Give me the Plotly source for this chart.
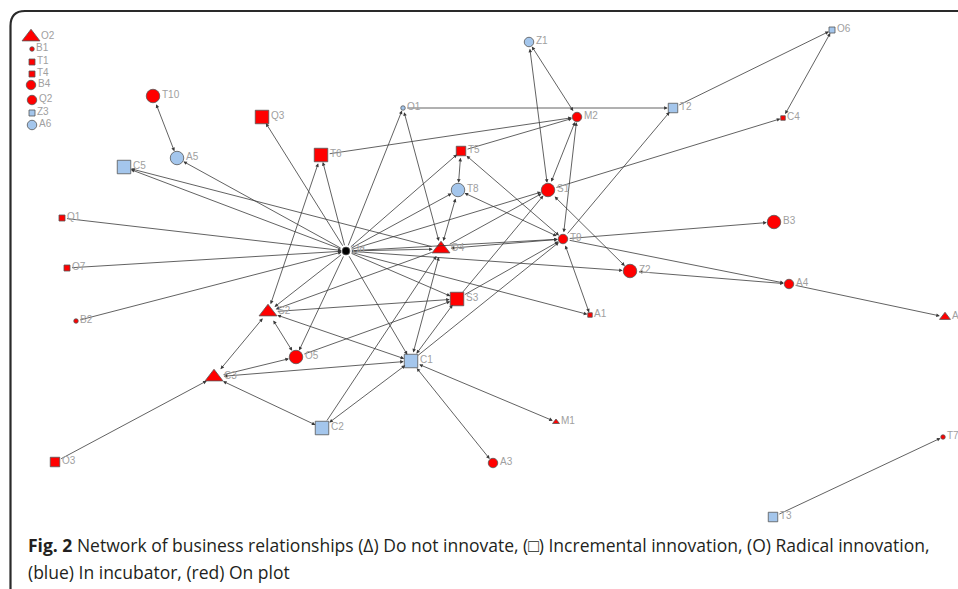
import plotly.graph_objects as go

# ---------------- data ----------------
node_names = ["O2","B1","T1","T4","B4","Q2","Z3","A6","T10","A5","C5","Q3","T6","O1","Z1","M2",
              "T2","O6","C4","T5","T8","S1","Ud","O4","T9","B3","Z2","A4","A2","S3","A1","Q1",
              "O7","B2","S2","O5","C3","C1","C2","M1","A3","O3","T7","T3"]
node_x = [31,32,32,32,31,32,32,32,153,177,124,262,321,403,529,577,
          673,832,783,461,458,548,346,441,563,774,630,789,945,457,590,62,
          67,76,268,296,214,411,322,556,493,55,943,773]
node_y = [37,49,62,74,85,100,113,125,96,158,167,117,155,108,42,117,
          108,30,118,151,190,190,251,249,239,222,271,284,317,299,315,218,
          268,321,312,357,377,361,428,422,463,462,437,517]
# innovation: N = do not innovate, I = incremental, R = radical, H = hub
node_innov = ["N","R","I","I","R","R","I","R","R","R","I","I","I","R","R","R",
              "I","I","I","I","R","R","H","N","R","R","R","R","N","I","I","I",
              "I","R","N","R","N","I","I","N","R","I","R","I"]
# location: B = in incubator, P = on plot
node_loc = ["P","P","P","P","P","P","B","B","P","B","B","P","P","B","B","P",
            "B","B","P","P","B","P","H","P","P","P","P","P","P","P","P","P",
            "P","P","P","P","P","B","B","P","P","P","P","B"]
# node weight class (1 = smallest .. 4 = largest)
node_weight = [4,1,2,2,3,3,2,3,4,4,4,4,4,1,3,3,
               3,2,1,3,4,4,2,4,3,4,4,3,3,4,1,2,
               2,1,4,4,4,4,4,2,3,3,1,3]

edge_src = ["T10","Ud","Ud","O4","Ud","Ud","T6","T6","Ud","O1","O1","Z1","M2","S1","T9","T5",
            "T5","T5","Ud","T8","T9","Ud","S1","S1","T9","T2","C4","Ud","O4","Ud","Ud","O4",
            "T9","T9","Z2","A4","Ud","Ud","T9","Ud","S2","O5","C1","S3","S3","C1","C1","C2",
            "O4","Ud","S2","Ud","S2","C3","C3","C3","C3","O3","Ud","C2","C1","C1","Q1","O7",
            "B2","T3"]
edge_dst = ["A5","A5","C5","C5","Q3","T6","S2","M2","O1","O4","T2","S1","Z1","M2","M2","M2",
            "T8","T9","T5","O4","T8","T8","Z2","C4","T2","O6","O6","O4","T9","T9","S1","S1",
            "B3","A4","A4","A2","Z2","A1","A1","S3","S3","S3","S3","S1","T9","T9","O4","O4",
            "S2","S2","O5","O5","C1","S2","O5","C1","C2","C3","C1","C1","M1","A3","Ud","Ud",
            "Ud","T7"]
edge_both = [1,0,0,0,0,0,1,0,0,1,0,1,1,1,1,0,
             1,1,0,1,1,0,1,0,0,0,1,0,1,0,0,0,
             0,0,1,0,0,0,1,0,0,0,1,0,0,0,1,0,
             0,0,1,0,1,1,0,1,1,0,0,1,1,1,0,0,
             0,0]

caption_1 = "<b>Fig. 2</b> Network of business relationships (Δ) Do not innovate, (□) Incremental innovation, (O) Radical innovation,"
caption_2 = "(blue) In incubator, (red) On plot"

# ---------------- styles ----------------
shape_of = {"N": "triangle-up", "I": "square", "R": "circle", "H": "circle"}
color_of = {"B": "#A4C6EC", "P": "#FF0000", "H": "#000000"}
size_of = {1: 4.5, 2: 6, 3: 9.5, 4: 13.5}

idx = {n: i for i, n in enumerate(node_names)}
sizes = [size_of[w] * (1.15 if s == "N" and w == 4 else (1.3 if s == "H" else 1.0))
         for w, s in zip(node_weight, node_innov)]

fig = go.Figure()

# edges as arrow annotations
annotations = []
for s, d, b in zip(edge_src, edge_dst, edge_both):
    i, j = idx[s], idx[d]
    annotations.append(dict(
        x=node_x[j], y=node_y[j], ax=node_x[i], ay=node_y[i],
        xref="x", yref="y", axref="x", ayref="y",
        showarrow=True, text="", arrowhead=2, startarrowhead=2,
        arrowside="end+start" if b else "end",
        arrowsize=0.9, startarrowsize=0.9, arrowwidth=0.8, arrowcolor="#3a3a3a",
        standoff=sizes[j] / 2 + 0.5, startstandoff=sizes[i] / 2 + 0.5,
    ))

fig.add_trace(go.Scatter(
    x=node_x, y=node_y, mode="markers",
    marker=dict(
        symbol=[shape_of[s] for s in node_innov],
        color=[color_of[l] for l in node_loc],
        size=sizes, opacity=1,
        line=dict(color="#555555", width=0.8),
    ),
    hovertext=node_names, hoverinfo="text", showlegend=False,
))

# node labels
for n, x, y, sz in zip(node_names, node_x, node_y, sizes):
    annotations.append(dict(
        x=x, y=y, xref="x", yref="y", text=n, showarrow=False,
        xanchor="left", yanchor="middle", xshift=sz / 2 + 0.2, yshift=2,
        font=dict(family="Liberation Sans", size=10, color="#a0a0a0"),
    ))

# caption
annotations.append(dict(x=26, y=545, xref="x", yref="y", text=caption_1, showarrow=False,
                        xanchor="left", yanchor="middle",
                        font=dict(family="Open Sans", size=17.5, color="#231f20")))
annotations.append(dict(x=26, y=572, xref="x", yref="y", text=caption_2, showarrow=False,
                        xanchor="left", yanchor="middle",
                        font=dict(family="Open Sans", size=17.5, color="#231f20")))

# frame
shapes = [dict(type="path", xref="x", yref="y",
               path="M 10.5 600 L 10.5 26 Q 10.5 11 25 11 L 970 11",
               line=dict(color="#2a2a2a", width=2.2))]

fig.update_layout(
    width=958, height=589, margin=dict(l=0, r=0, t=0, b=0),
    paper_bgcolor="white", plot_bgcolor="white",
    xaxis=dict(range=[0, 958], visible=False, fixedrange=True),
    yaxis=dict(range=[589, 0], visible=False, fixedrange=True),
    annotations=annotations, shapes=shapes,
)

fig.write_html("out.html", config={"displayModeBar": False},
               post_script="document.body.style.margin='0';document.body.style.overflow='hidden';")
